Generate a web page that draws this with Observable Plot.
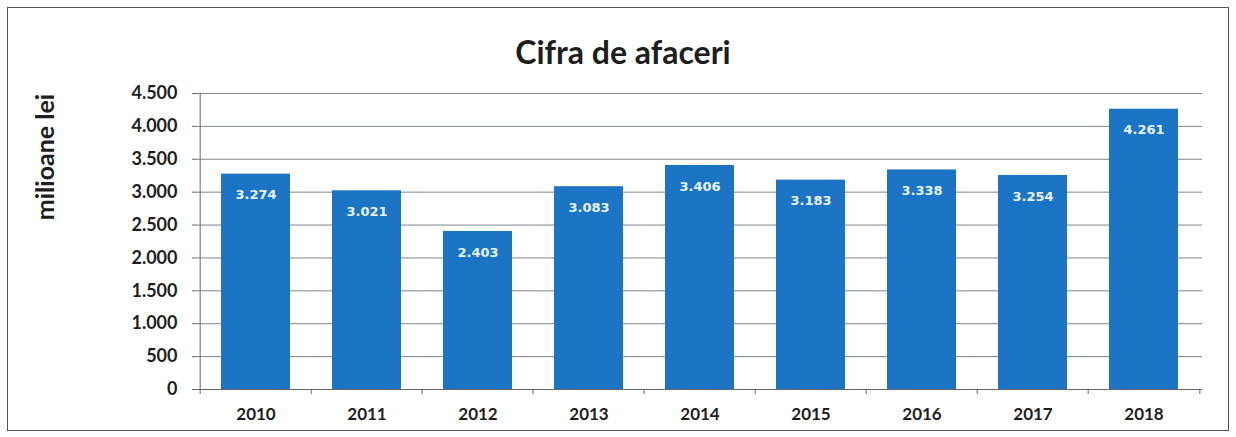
<!DOCTYPE html>
<html>
<head>
<meta charset="utf-8">
<script src="https://cdn.jsdelivr.net/npm/d3@7"></script>
<script src="https://cdn.jsdelivr.net/npm/@observablehq/plot@0.6"></script>
<style>
  html, body { margin: 0; padding: 0; background: #fff; }
  #wrap { position: relative; width: 1236px; height: 437px; overflow: hidden; font-family: Lato, "Open Sans", sans-serif; }
  #border { position: absolute; left: 7px; top: 7px; width: 1222px; height: 424px; border: 1.5px solid #555; box-sizing: border-box; pointer-events: none; }
  #title { position: absolute; left: 0; width: 1246px; top: 32px; text-align: center; font-size: 32px; font-weight: bold; color: #1e1e1e; line-height: 40px; }
  #ylabel { position: absolute; left: 44px; top: 157px; transform: translate(-50%, -50%) rotate(-90deg); white-space: nowrap; font-size: 25px; font-weight: bold; color: #1e1e1e; line-height: 28px; }
  #chart { position: absolute; left: 0; top: 0; }
</style>
</head>
<body>
<div id="wrap">
  <div id="chart"></div>
  <div id="border"></div>
  <div id="title">Cifra de afaceri</div>
  <div id="ylabel">milioane lei</div>
</div>
<script>
const years = ["2010", "2011", "2012", "2013", "2014", "2015", "2016", "2017", "2018"];
const values = [3274, 3021, 2403, 3083, 3406, 3183, 3338, 3254, 4261];
const yTicks = [0, 500, 1000, 1500, 2000, 2500, 3000, 3500, 4000, 4500];

const data = years.map((year, i) => ({year, value: values[i]}));
const ro = d3.formatLocale({decimal: ",", thousands: ".", grouping: [3], currency: ["", ""]});
const fmt = ro.format(",d");

const width = 1236, height = 437;
const marginLeft = 197, marginRight = 34, marginTop = 93, marginBottom = 48;
const step = (width - marginLeft - marginRight) / years.length;

const chart = Plot.plot({
  width, height, marginLeft, marginRight, marginTop, marginBottom,
  style: {fontFamily: "Lato, 'Open Sans', sans-serif", background: "transparent"},
  x: {domain: years, paddingInner: 0.38, paddingOuter: 0.19, axis: null},
  y: {domain: [0, 4500], axis: null},
  marks: [
    Plot.gridY(yTicks, {stroke: "#6f7a82", strokeOpacity: 0.9, strokeWidth: 1}),
    Plot.axisY(yTicks, {tickSize: 5, tickPadding: 15, tickFormat: fmt, fontSize: 18, fontWeight: "bold", fill: "#1e1e1e", stroke: "#666", label: null}),
    Plot.barY(data, {x: "year", y: "value", fill: "#1c75c4"}),
    Plot.text(data, {x: "year", y: "value", text: d => fmt(d.value), dy: 21, fill: "#e8f2fb", fontSize: 13, fontWeight: "bold", fontFamily: "'DejaVu Sans', sans-serif"}),
    Plot.ruleY([0], {stroke: "#666", strokeWidth: 1.2}),
    Plot.ruleX([years[0]], {x: d => d, dx: -step / 2, stroke: "#666", strokeWidth: 1}),
    Plot.ruleX(years, {x: d => d, dx: -step / 2, y1: () => 0, y2: () => 0, insetBottom: -5, stroke: "#666"}),
    Plot.ruleX([years[years.length - 1]], {x: d => d, dx: step / 2, y1: () => 0, y2: () => 0, insetBottom: -5, stroke: "#666"}),
    Plot.axisX({tickSize: 0, tickPadding: 18, fontSize: 17, fontWeight: "bold", fill: "#1e1e1e", label: null})
  ]
});
document.getElementById("chart").appendChild(chart);
</script>
</body>
</html>
